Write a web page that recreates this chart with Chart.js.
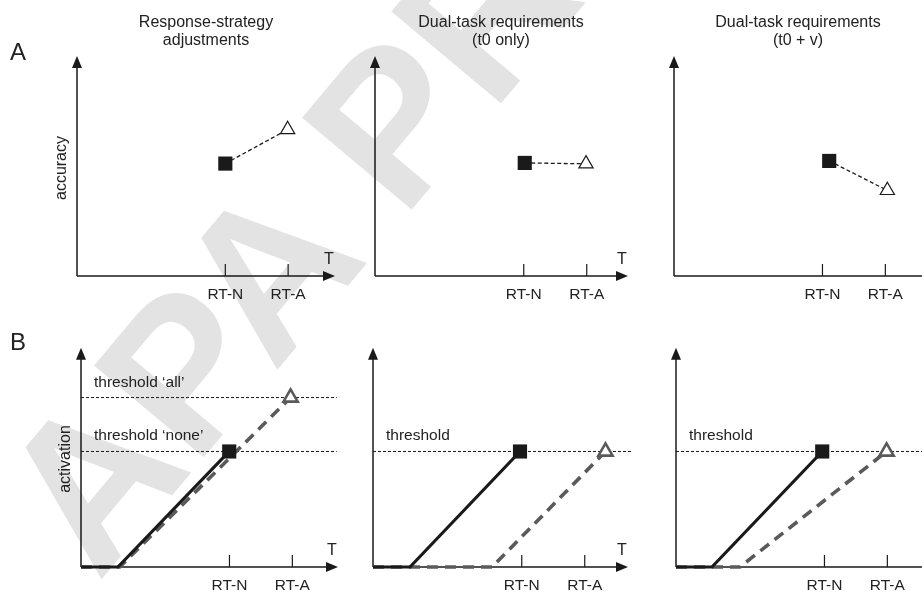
<!DOCTYPE html>
<html>
<head>
<meta charset="utf-8">
<script src="https://cdn.jsdelivr.net/npm/chart.js@4.4.1/dist/chart.umd.min.js"></script>
<style>
  body { margin: 0; background: #fff; width: 922px; height: 593px; overflow: hidden; position: relative; font-family: "Liberation Sans", Arial, sans-serif; color: #222; }
  .wm { position: absolute; left: 0; top: 0; font-size: 208px; font-weight: bold; line-height: 1; color: #e3e3e3; white-space: nowrap; transform-origin: 0 0; z-index: 0; }
  .title { position: absolute; top: 13px; width: 260px; margin-left: -130px; text-align: center; font-size: 16px; line-height: 18px; z-index: 2; }
  .letter { position: absolute; left: 10px; font-size: 24px; line-height: 24px; z-index: 2; }
  canvas { position: absolute; z-index: 1; }
</style>
</head>
<body>
<div class="wm" id="wm">APA PROOFS</div>
<div class="letter" style="top:40px">A</div>
<div class="letter" style="top:330px">B</div>
<div id="titles"></div>

<script>
// ---- data (time units along T, 0..10 up the y axes) ----
const columnTitles = [['Response-strategy', 'adjustments'], ['Dual-task requirements', '(t0 only)'], ['Dual-task requirements', '(t0 + v)']];
const tickValues = [5.95, 8.47];
const tickLabels = ['RT-N', 'RT-A'];

// row A: accuracy of normal (square) and alarm (triangle) responses
const rtNormalA = [5.95, 5.99, 6.22];
const rtAlarmA = [8.45, 8.44, 8.55];
const accNormal = [5.11, 5.14, 5.23];
const accAlarm = [6.66, 5.1, 3.89];

// row B: activation ramps
const thresholdNone = 5.27;
const thresholdAll = 7.73;
const thresholdsB = [[thresholdAll, thresholdNone], [thresholdNone], [thresholdNone]];
const thresholdLabelsB = [['threshold \u2018all\u2019', 'threshold \u2018none\u2019'], ['threshold'], ['threshold']];
const thresholdEnd = [10.25, 10.35, 10.5];
const onsetNormal = [1.48, 1.48, 1.44];
const onsetAlarm = [1.55, 4.76, 2.56];
const rtNormalB = [5.94, 5.88, 5.86];
const rtAlarmB = [8.4, 9.3, 8.44];
const levelAlarmB = [thresholdAll, thresholdNone, thresholdNone];

// ---- layout (page pixels) ----
const UNIT_X = 25, PLOT_H = 220;
const PAD = { left: 75, top: 10, right: 15, bottom: 35 };
const panels = [
  { row: 'A', col: 0, ox: 77, oy: 276, xMax: 10.35 },
  { row: 'A', col: 1, ox: 375, oy: 276, xMax: 10.12 },
  { row: 'A', col: 2, ox: 674, oy: 276, xMax: 10.5 },
  { row: 'B', col: 0, ox: 81, oy: 567, xMax: 10.3 },
  { row: 'B', col: 1, ox: 373, oy: 567, xMax: 10.2 },
  { row: 'B', col: 2, ox: 676, oy: 567, xMax: 10.5 }
];
const titleCenters = [206, 501, 798];
const FONT = '"Liberation Sans", Arial, sans-serif';
const INK = '#1a1a1a';
const GREY = '#5a5a5a';

// watermark: baseline starts near the bottom-left corner, runs up to the right
const WM = document.getElementById('wm');
WM.style.transform = 'translate(98px, 583px) rotate(-50deg) translate(0, -0.845em)';

// titles
titleCenters.forEach((cx, i) => {
  const d = document.createElement('div');
  d.className = 'title';
  d.style.left = cx + 'px';
  d.innerHTML = columnTitles[i].join('<br>');
  document.getElementById('titles').appendChild(d);
});

// ----------------------------------------------------
// axes with arrows, inner tick marks, labels
// ----------------------------------------------------
const sketchAxes = {
  id: 'sketchAxes',
  beforeDatasetsDraw(chart, args, opts) {
    const { ctx, chartArea, scales } = chart;
    const x = scales.x, y = scales.y;
    const ox = x.getPixelForValue(0), oy = y.getPixelForValue(0);
    const right = chartArea.right, top = chartArea.top;
    ctx.save();
    ctx.strokeStyle = INK; ctx.fillStyle = INK; ctx.lineWidth = 1.5;
    ctx.beginPath();
    ctx.moveTo(ox, oy); ctx.lineTo(right - 8, oy);
    ctx.moveTo(ox, oy); ctx.lineTo(ox, top + 8);
    ctx.stroke();
    ctx.beginPath();
    ctx.moveTo(right, oy); ctx.lineTo(right - 12, oy - 5); ctx.lineTo(right - 12, oy + 5); ctx.closePath();
    ctx.moveTo(ox, top); ctx.lineTo(ox - 5, top + 12); ctx.lineTo(ox + 5, top + 12); ctx.closePath();
    ctx.fill();

    ctx.lineWidth = 1.2;
    ctx.font = '15.5px ' + FONT;
    ctx.fillStyle = '#222';
    ctx.textAlign = 'center';
    ctx.textBaseline = 'alphabetic';
    tickValues.forEach((v, i) => {
      const px = x.getPixelForValue(v);
      ctx.beginPath(); ctx.moveTo(px, oy); ctx.lineTo(px, oy - 12); ctx.stroke();
      ctx.fillText(tickLabels[i], px, oy + 23);
    });
    ctx.font = '16px ' + FONT;
    ctx.fillText('T', right - 6, oy - 12);

    if (opts.yTitle) {
      ctx.save();
      ctx.translate(ox - 15, oy - 108);
      ctx.rotate(-Math.PI / 2);
      ctx.textBaseline = 'middle';
      ctx.fillText(opts.yTitle, 0, 0);
      ctx.restore();
    }
    (opts.thresholds || []).forEach((t, i) => {
      ctx.textAlign = 'left';
      ctx.font = '15.5px ' + FONT;
      ctx.fillText(opts.thresholdLabels[i], ox + 13, y.getPixelForValue(t) - 11);
    });
    ctx.restore();
  }
};

function makeChart(p) {
  const plotW = p.xMax * UNIT_X;
  const canvas = document.createElement('canvas');
  canvas.width = PAD.left + plotW + PAD.right;
  canvas.height = PAD.top + PLOT_H + PAD.bottom;
  canvas.style.left = (p.ox - PAD.left) + 'px';
  canvas.style.top = (p.oy - PLOT_H - PAD.top) + 'px';
  document.body.appendChild(canvas);

  const i = p.col;
  let datasets;
  const pluginOpts = {};
  if (p.row === 'A') {
    datasets = [
      {
        data: [{ x: rtNormalA[i], y: accNormal[i] }, { x: rtAlarmA[i], y: accAlarm[i] }],
        showLine: false,
        pointStyle: ['rect', 'triangle'],
        pointRadius: [10, 8.2],
        pointBackgroundColor: [INK, '#fff'],
        pointBorderColor: [INK, INK],
        pointBorderWidth: [0, 1.2]
      },
      {
        data: [{ x: rtNormalA[i], y: accNormal[i] }, { x: rtAlarmA[i], y: accAlarm[i] }],
        showLine: true, borderColor: INK, borderWidth: 1.3, borderDash: [4, 2.5], pointRadius: 0
      }
    ];
    if (i === 0) pluginOpts.yTitle = 'accuracy';
  } else {
    datasets = [
      {
        data: [{ x: rtNormalB[i], y: thresholdNone }, { x: rtAlarmB[i], y: levelAlarmB[i] }],
        showLine: false,
        pointStyle: ['rect', 'triangle'],
        pointRadius: [10, 8.2],
        pointBackgroundColor: [INK, '#fff'],
        pointBorderColor: [INK, GREY],
        pointBorderWidth: [0, 2.6]
      },
      {
        data: [{ x: 0, y: 0 }, { x: onsetNormal[i], y: 0 }, { x: rtNormalB[i], y: thresholdNone }],
        showLine: true, borderColor: INK, borderWidth: 3.2, pointRadius: 0
      },
      {
        data: [{ x: 0, y: 0 }, { x: onsetAlarm[i], y: 0 }, { x: rtAlarmB[i], y: levelAlarmB[i] }],
        showLine: true, borderColor: GREY, borderWidth: 3.6, borderDash: [11, 7], pointRadius: 0
      }
    ];
    thresholdsB[i].forEach(t => {
      datasets.push({
        data: [{ x: 0, y: t }, { x: thresholdEnd[i], y: t }],
        showLine: true, borderColor: INK, borderWidth: 1, borderDash: [3, 2], pointRadius: 0
      });
    });
    if (i === 0) pluginOpts.yTitle = 'activation';
    pluginOpts.thresholds = thresholdsB[i];
    pluginOpts.thresholdLabels = thresholdLabelsB[i];
  }
  datasets.forEach(d => { d.clip = false; d.tension = 0; d.fill = false; });

  return new Chart(canvas, {
    type: 'scatter',
    data: { datasets },
    options: {
      responsive: false,
      animation: false,
      events: [],
      layout: { padding: PAD },
      scales: {
        x: { type: 'linear', min: 0, max: p.xMax, display: false },
        y: { type: 'linear', min: 0, max: 10, display: false }
      },
      plugins: { legend: { display: false }, tooltip: { enabled: false }, sketchAxes: pluginOpts }
    },
    plugins: [sketchAxes]
  });
}

panels.forEach(makeChart);
</script>
</body>
</html>
